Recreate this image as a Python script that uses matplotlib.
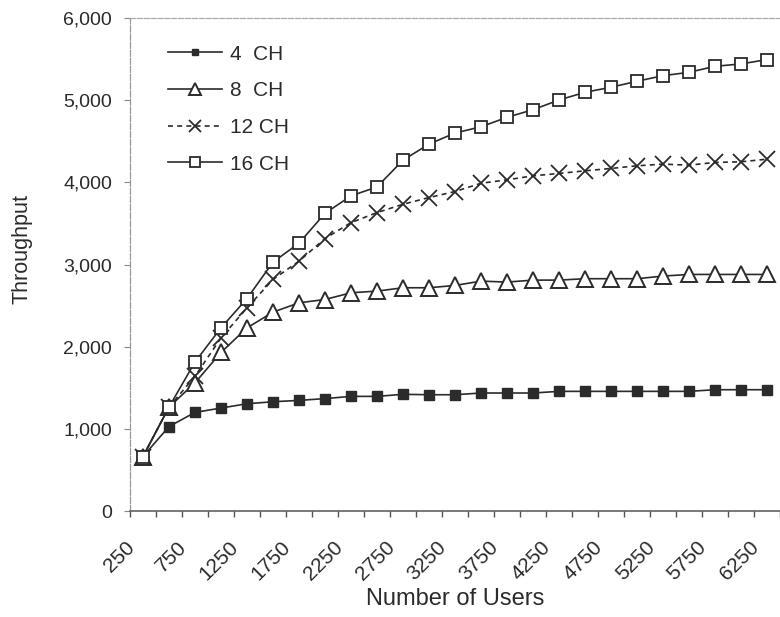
import matplotlib
matplotlib.use("Agg")
import matplotlib.pyplot as plt
import matplotlib.transforms as mtransforms
from matplotlib.ticker import FuncFormatter

users = [250, 500, 750, 1000, 1250, 1500, 1750, 2000, 2250, 2500, 2750, 3000, 3250,
         3500, 3750, 4000, 4250, 4500, 4750, 5000, 5250, 5500, 5750, 6000, 6250]

ch4 = [663, 1028, 1200, 1253, 1305, 1330, 1346, 1368, 1395, 1395, 1420, 1415, 1415,
       1436, 1436, 1436, 1456, 1456, 1456, 1456, 1456, 1456, 1476, 1476, 1476]
ch8 = [663, 1265, 1560, 1930, 2229, 2420, 2534, 2574, 2656, 2676, 2717, 2717, 2745,
       2798, 2786, 2810, 2810, 2827, 2827, 2827, 2859, 2879, 2879, 2879, 2879]
ch12 = [663, 1265, 1640, 2107, 2473, 2818, 3041, 3316, 3510, 3632, 3733, 3815, 3888,
        3989, 4030, 4079, 4108, 4140, 4169, 4201, 4222, 4209, 4242, 4250, 4282]
ch16 = [663, 1265, 1814, 2229, 2586, 3029, 3260, 3623, 3835, 3944, 4270, 4465, 4600,
        4676, 4791, 4884, 5002, 5096, 5157, 5230, 5298, 5339, 5412, 5441, 5494]

labels = ["4  CH", "8  CH", "12 CH", "16 CH"]
yticks = [0, 1000, 2000, 3000, 4000, 5000, 6000]

plt.rcParams['font.family'] = ['Liberation Sans', 'DejaVu Sans']
ink = "#2b2b2b"

fig = plt.figure(figsize=(7.8, 6.17), dpi=100)
ax = fig.add_axes([130/780, 106/617, 650/780, 493/617])

x = list(range(len(users)))
ax.plot(x, ch4, color=ink, lw=1.2, marker='s', ms=7, mfc=ink, mec=ink, label=labels[0], zorder=3)
ax.plot(x, ch8, color=ink, lw=1.2, marker='^', ms=11, mfc='white', mec=ink, mew=1.4, label=labels[1], zorder=3)
ax.plot(x, ch12, color=ink, lw=1.2, ls=(0, (3, 2.5)), marker='x', ms=11.5, mec=ink, mew=1.3, label=labels[2], zorder=4)
ax.plot(x, ch16, color=ink, lw=1.2, marker='s', ms=9, mfc='white', mec=ink, mew=1.3, label=labels[3], zorder=5)

ax.set_xlim(-0.5, -0.5 + 650/26.18)
ax.set_ylim(0, 6000)

ax.set_xticks(x[::2])
ax.set_xticks([i - 0.5 for i in range(len(users) + 1)], minor=True)
ax.tick_params(axis='x', which='major', length=0, pad=10)
ax.tick_params(axis='x', which='minor', length=4, direction='out', color='#555555', width=1)
ax.set_xticklabels([str(u) for u in users[::2]], rotation=45, ha='right', va='top',
                   rotation_mode='anchor', fontsize=15, color=ink)

ax.set_yticks(yticks)
ax.yaxis.set_major_formatter(FuncFormatter(lambda v, p: f"{int(v):,}"))
ax.tick_params(axis='y', length=4, direction='out', color='#888888', labelsize=14,
               labelcolor=ink, pad=9)

shift = mtransforms.ScaledTranslation(-0.18, -0.13, fig.dpi_scale_trans)
for lab in ax.get_xticklabels():
    lab.set_transform(lab.get_transform() + shift)

ax.spines['right'].set_visible(False)
ax.spines['top'].set_color('#aaaaaa')
ax.spines['top'].set_linestyle((0, (4, 1.5)))
ax.spines['top'].set_linewidth(0.9)
ax.spines['left'].set_color('#999999')
ax.spines['left'].set_linestyle((0, (5, 1.5)))
ax.spines['left'].set_linewidth(0.9)
ax.spines['bottom'].set_color('#555555')
ax.spines['bottom'].set_linewidth(1.1)

ax.set_xlabel("Number of Users", fontsize=17, color=ink)
ax.xaxis.set_label_coords(325/650, -(599 - 511) / 493, transform=ax.transAxes)
ax.xaxis.label.set_va('center')
ax.set_ylabel("Throughput", fontsize=15.5, color=ink)
ax.yaxis.set_label_coords(-(130 - 22) / 650, (511 - 249) / 493, transform=ax.transAxes)
ax.yaxis.label.set_va('center')

leg = ax.legend(loc='upper left', bbox_to_anchor=(0.029, 0.984), frameon=False, fontsize=15,
                handlelength=2.6, labelspacing=0.85, handletextpad=0.4)
for t in leg.get_texts():
    t.set_color(ink)
for h, ms in zip(leg.legend_handles, [5, 8, 8, 7]):
    h.set_markersize(ms)

fig.savefig("out.png", dpi=100, facecolor='white')
